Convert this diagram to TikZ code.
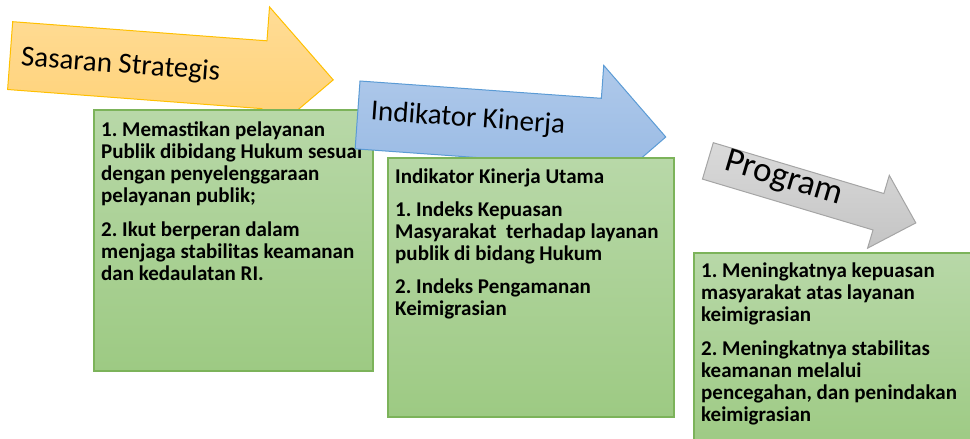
\documentclass[tikz,border=0pt]{standalone}
\usepackage{fontspec}
\setmainfont{Carlito}
\usepackage{tikz}
\frenchspacing

\definecolor{oranyeatas}{HTML}{FFDC96}
\definecolor{oranyebawah}{HTML}{FFD072}
\definecolor{oranyegaris}{HTML}{FFC000}
\definecolor{biruatas}{HTML}{AFC9EA}
\definecolor{birubawah}{HTML}{94B7E3}
\definecolor{birugaris}{HTML}{5B9BD5}
\definecolor{abuatas}{HTML}{DADADA}
\definecolor{abubawah}{HTML}{C4C4C4}
\definecolor{abugaris}{HTML}{A5A5A5}
\definecolor{hijauatas}{HTML}{B8D8A8}
\definecolor{hijaubawah}{HTML}{9DCA83}
\definecolor{hijaugaris}{HTML}{7CB35A}

\begin{document}
\begin{tikzpicture}[x=1pt,y=-1pt]
  \tikzstyle{panah}=[line width=1pt,line join=miter]
  \tikzstyle{judul}=[anchor=base west,inner sep=0pt,transform shape,
                     font=\fontsize{29}{34}\selectfont]
  \tikzstyle{kotak}=[draw=hijaugaris,line width=1.2pt,
                     top color=hijauatas,bottom color=hijaubawah]
  \tikzstyle{isi}=[anchor=north west,inner sep=0pt,align=left,
                   font=\bfseries\fontsize{21}{22}\selectfont]

  \clip (0,0) rectangle (970,439);

  % Sasaran strategis.
  \begin{scope}[shift={(12.7,21.7)},rotate=-4.3]
    \draw[panah,draw=oranyegaris,top color=oranyeatas,bottom color=oranyebawah]
      (0,0) -- (255,0) -- (255,-34) -- (324,34) -- (255,102) -- (255,68) -- (0,68) -- cycle;
    \node[judul] (sasaran) at (11,43) {Sasaran Strategis};
  \end{scope}
  \draw[kotak] (94,110) rectangle (373,371);
  \node[isi] (isisasaran) at (101,122)
    {1. Memastikan pelayanan\\ Publik dibidang Hukum sesuai\\ dengan penyelenggaraan\\
     pelayanan publik;\\[12pt] 2. Ikut berperan dalam\\ menjaga stabilitas keamanan\\
     dan kedaulatan RI.};

  % Indikator kinerja.
  \begin{scope}[shift={(360,81)},rotate=-4.1]
    \draw[panah,draw=birugaris,top color=biruatas,bottom color=birubawah]
      (0,0) -- (242,0) -- (242,-33) -- (309,34) -- (242,101) -- (242,68) -- (0,68) -- cycle;
    \node[judul] (indikator) at (13,38) {Indikator Kinerja};
  \end{scope}
  \draw[kotak] (388,158) rectangle (674,417);
  \node[isi] (isiindikator) at (395,168.3)
    {Indikator Kinerja Utama\\[11pt] 1. Indeks Kepuasan\\ Masyarakat\ \ terhadap layanan\\
     publik di bidang Hukum\\[11pt] 2. Indeks Pengamanan\\ Keimigrasian};

  % Program.
  \begin{scope}[shift={(713.3,142.7)},rotate=-16.6]
    \draw[panah,draw=abugaris,top color=abuatas,bottom color=abubawah]
      (0,0) -- (178,0) -- (178,-19) -- (217,19) -- (178,57) -- (178,38) -- (0,38) -- cycle;
    \node[judul,font=\fontsize{35}{40}\selectfont] (program) at (17,23) {Program};
  \end{scope}
  \draw[kotak] (694,253) rectangle (980,450);
  \node[isi] (isiprogram) at (701,262.3)
    {1. Meningkatnya kepuasan\\ masyarakat atas layanan\\ keimigrasian\\[12pt]
     2. Meningkatnya stabilitas\\ keamanan melalui\\ pencegahan, dan penindakan\\
     keimigrasian};
\end{tikzpicture}
\end{document}
